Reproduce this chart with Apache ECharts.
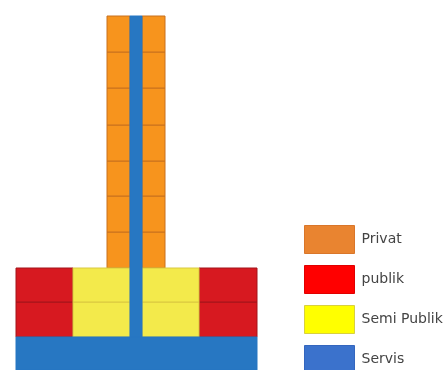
<!DOCTYPE html>
<html><head><meta charset="utf-8">
<script src="https://cdn.jsdelivr.net/npm/echarts@6/dist/echarts.min.js"></script>
<style>html,body{margin:0;padding:0;background:#fff}#c{width:447px;height:370px}</style>
</head><body><div id="c"></div>
<script>
// Zones (legend)
const zones = ['Privat', 'publik', 'Semi Publik', 'Servis'];
const zoneColors = ['#F7941D', '#D71920', '#F3EA4B', '#2777C2'];
const zoneStrokes = ['#C8701E', '#A3141A', '#D9C840', '#2777C2'];
const legendColors = ['#E98430', '#FF0000', '#FFFF00', '#3B72CC'];
const legendBorders = ['#D9762A', '#E00000', '#D8D040', '#3466BE'];

// Section geometry (horizontal units / elevation units)
const towerLevels = [102, 138, 174, 209, 245, 282, 318, 354];   // tower floor boundaries
const towerRooms = [[91, 114], [126, 149]];                      // private rooms each side of core
const podiumLevels = [33, 68, 102];                              // podium floor boundaries
const publikSpans = [[0, 57], [183, 241]];
const semiSpans = [[57, 114], [126, 183]];
const coreSpan = [114, 126];
const baseSpan = [0, 241];
const baseLevels = [0, 33];

function floors(levels, spans) {
  const out = [];
  for (let i = 0; i < levels.length - 1; i++)
    for (const s of spans) out.push([s[0], s[1], levels[i], levels[i + 1]]);
  return out;
}
const privatData = floors(towerLevels, towerRooms);
const publikData = floors(podiumLevels, publikSpans);
const semiData = floors(podiumLevels, semiSpans);
const servisData = [
  [baseSpan[0], baseSpan[1], baseLevels[0], baseLevels[1]],
  [coreSpan[0], coreSpan[1], baseLevels[1], towerLevels[towerLevels.length - 1]]
];
const seriesData = [privatData, publikData, semiData, servisData];

function renderItem(params, api) {
  const p0 = api.coord([api.value(0), api.value(3)]);
  const p1 = api.coord([api.value(1), api.value(2)]);
  const k = params.seriesIndex;
  return {
    type: 'rect',
    shape: { x: p0[0], y: p0[1], width: p1[0] - p0[0], height: p1[1] - p0[1] },
    style: { fill: zoneColors[k], stroke: zoneStrokes[k], lineWidth: 1 }
  };
}

const chart = echarts.init(document.getElementById('c'), null, { renderer: 'canvas' });
chart.setOption({
  animation: false,
  backgroundColor: '#fff',
  grid: { left: 16, top: 16, width: 241, height: 354, containLabel: false },
  xAxis: { type: 'value', min: 0, max: 241, show: false },
  yAxis: { type: 'value', min: 0, max: 354, show: false },
  legend: {
    orient: 'vertical', left: 304, top: 225, padding: 0, height: 150,
    itemWidth: 50, itemHeight: 28, itemGap: 11,
    icon: 'rect', selectedMode: false,
    textStyle: { fontFamily: 'DejaVu Sans', fontSize: 14, color: '#444', padding: [0, 0, 0, 2] },
    data: zones.map((z, i) => ({
      name: z,
      itemStyle: { color: legendColors[i], borderColor: legendBorders[i], borderWidth: 1 }
    }))
  },
  series: zones.map((z, i) => ({
    name: z,
    type: 'custom',
    renderItem: renderItem,
    itemStyle: { color: zoneColors[i] },
    encode: { x: [0, 1], y: [2, 3] },
    data: seriesData[i],
    clip: false
  }))
});
</script></body></html>
